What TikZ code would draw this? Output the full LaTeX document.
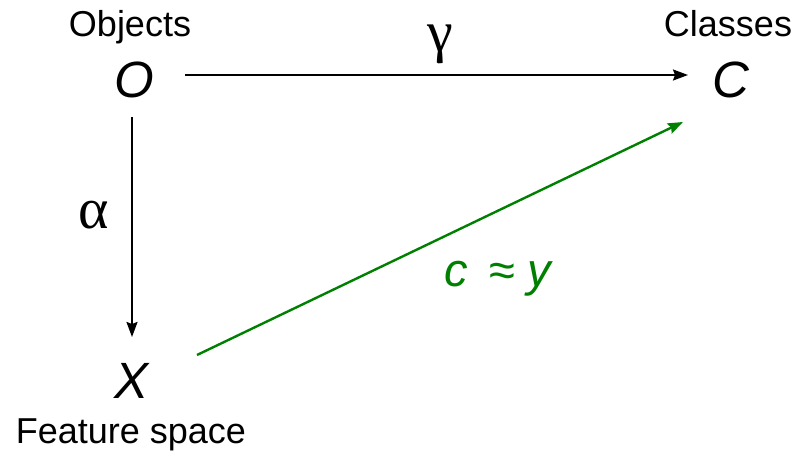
\documentclass[tikz,border=0pt]{standalone}
\usepackage{fontspec}
\setmainfont{Liberation Sans}
\newfontfamily\greekfont{Liberation Serif}
\usetikzlibrary{arrows.meta}
\definecolor{dgreen}{RGB}{0,128,0}
\begin{document}
\begin{tikzpicture}[x=1pt,y=-1pt,
  lbl/.style={font=\fontsize{36}{40}\selectfont, inner sep=0pt, anchor=base},
  var/.style={font=\fontsize{51}{56}\selectfont\itshape, inner sep=0pt, anchor=base},
  grk/.style={font=\fontsize{58}{62}\selectfont\greekfont, inner sep=0pt, anchor=base},
  arr/.style={line width=2pt, -{Stealth[length=15pt,width=11pt,inset=2pt]}},
  garr/.style={arr, dgreen, line width=2.4pt}]
\useasboundingbox (0,0) rectangle (797,452);
\node[lbl] (objects) at (130,37) {Objects};
\node[lbl] (classes) at (728,37) {Classes};
\node[lbl] (feature) at (131,443) {Feature space};
\node[var] (O) at (134,97) {O};
\node[var] (C) at (731,97) {C};
\node[var] (X) at (132,398) {X};
\node[grk] (gamma) at (440,52) {γ};
\node[grk] (alpha) at (94,228) {α};
\node[inner sep=0pt, anchor=base, text=dgreen, font=\fontsize{47}{52}\selectfont] (cy) at (499,286) {\textit{c}\hspace{22pt}≈\hspace{12pt}\textit{y}};
\coordinate (g1) at (197,355);
\coordinate (g2) at (683,122);
\coordinate (h1) at (185,75);
\coordinate (h2) at (688,75);
\coordinate (v1) at (132,117);
\coordinate (v2) at (132,337);
\draw[arr] (h1) -- (h2);
\draw[arr] (v1) -- (v2);
\draw[garr] (g1) -- (g2);
\end{tikzpicture}
\end{document}
